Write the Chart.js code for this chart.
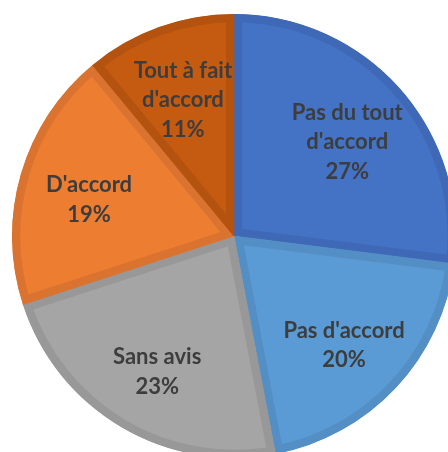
<!DOCTYPE html>
<html lang="fr">
<head>
    <meta charset="UTF-8">
    <title>Pie</title>
    <style>
        html, body {
            margin: 0;
            padding: 0;
            width: 448px;
            height: 452px;
            overflow: hidden;
            background: #ffffff;
        }

        #holder {
            position: absolute;
            left: 12px;
            top: 14px;
            width: 444px;
            height: 444px;
        }
    </style>
</head>
<body>
    <div id="holder">
        <canvas id="pieCanvas" width="444" height="444"></canvas>
    </div>

    <script src="https://cdn.jsdelivr.net/npm/chart.js"></script>
    <script>
        // Categories (split into lines as shown on the slices)
        const categories = [
            ['Pas du tout', "d'accord"],
            ["Pas d'accord"],
            ['Sans avis'],
            ["D'accord"],
            ['Tout à fait', "d'accord"]
        ];
        // Share of answers, in percent
        const values = [27, 20, 23, 19, 11];
        const fillColors = ['#4472C4', '#5B9BD5', '#A5A5A5', '#ED7D31', '#C55A11'];
        const edgeColors = ['#3F69B6', '#538EC4', '#989898', '#DA7330', '#B45310'];

        // draws category + percent inside each slice
        const sliceLabels = {
            id: 'sliceLabels',
            afterDatasetsDraw(chart) {
                const ctx = chart.ctx;
                const meta = chart.getDatasetMeta(0);
                const total = values.reduce((a, b) => a + b, 0);
                ctx.save();
                ctx.font = 'bold 22px Lato';
                ctx.fillStyle = '#3d3d3d';
                ctx.textAlign = 'center';
                ctx.textBaseline = 'middle';
                meta.data.forEach((arc, i) => {
                    const p = arc.getProps(['x', 'y', 'startAngle', 'endAngle', 'outerRadius'], true);
                    const mid = (p.startAngle + p.endAngle) / 2;
                    const r = p.outerRadius * 0.68;
                    const cx = p.x + Math.cos(mid) * r;
                    const cy = p.y + Math.sin(mid) * r + 6;
                    const lines = [...categories[i], Math.round(values[i] / total * 100) + '%'];
                    const lh = 29.5;
                    lines.forEach((t, j) => {
                        ctx.fillText(t, cx, cy + (j - (lines.length - 1) / 2) * lh);
                    });
                });
                ctx.restore();
            }
        };

        const ctx = document.getElementById('pieCanvas').getContext('2d');
        const pie = new Chart(ctx, {
            type: 'pie',
            data: {
                labels: categories,
                datasets: [{
                    data: values,
                    backgroundColor: fillColors,
                    borderColor: edgeColors,
                    borderWidth: 8,
                    borderAlign: 'inner',
                    borderJoinStyle: 'miter',
                    offset: 0,
                    hoverOffset: 0
                }]
            },
            options: {
                responsive: false,
                animation: false,
                events: [],
                layout: { padding: 0 },
                plugins: {
                    legend: { display: false },
                    tooltip: { enabled: false }
                }
            },
            plugins: [sliceLabels]
        });
    </script>
</body>
</html>
